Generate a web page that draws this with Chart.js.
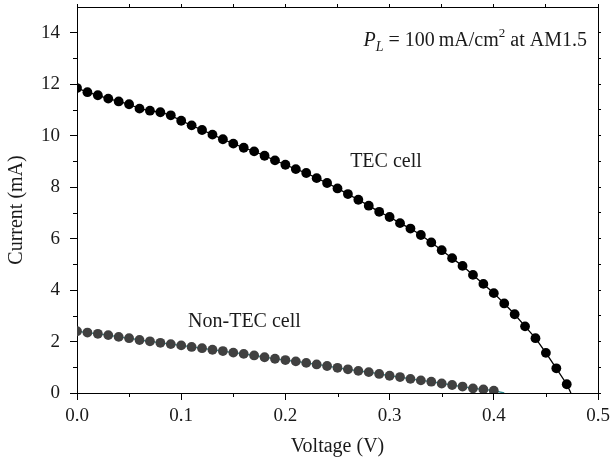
<!DOCTYPE html>
<html>
<head>
<meta charset="utf-8">
<script src="https://cdn.jsdelivr.net/npm/chart.js@4/dist/chart.umd.min.js"></script>
<style>
  html, body { margin: 0; padding: 0; background: #fff; }
  #wrap { width: 610px; height: 460px; }
</style>
</head>
<body>
<div id="wrap"><canvas id="c" width="610" height="460"></canvas></div>
<script>
// ---- data ----
const tecVoltage = [0.00,0.01,0.02,0.03,0.04,0.05,0.06,0.07,0.08,0.09,
  0.10,0.11,0.12,0.13,0.14,0.15,0.16,0.17,0.18,0.19,
  0.20,0.21,0.22,0.23,0.24,0.25,0.26,0.27,0.28,0.29,
  0.30,0.31,0.32,0.33,0.34,0.35,0.36,0.37,0.38,0.39,
  0.40,0.41,0.42,0.43,0.44,0.45,0.46,0.47];
const tecCurrent = [11.85,11.69,11.57,11.44,11.33,11.22,11.05,10.97,10.91,10.79,
  10.58,10.40,10.22,10.04,9.86,9.69,9.53,9.39,9.22,9.04,
  8.87,8.70,8.55,8.35,8.16,7.95,7.73,7.51,7.28,7.04,
  6.84,6.60,6.39,6.14,5.85,5.55,5.24,4.94,4.59,4.24,
  3.88,3.48,3.06,2.59,2.13,1.56,0.96,0.34];
const tecFitEnd = [0.474, 0.0];

const nonTecVoltage = [0.00,0.01,0.02,0.03,0.04,0.05,0.06,0.07,0.08,0.09,
  0.10,0.11,0.12,0.13,0.14,0.15,0.16,0.17,0.18,0.19,
  0.20,0.21,0.22,0.23,0.24,0.25,0.26,0.27,0.28,0.29,
  0.30,0.31,0.32,0.33,0.34,0.35,0.36,0.37,0.38,0.39,0.40];
const nonTecCurrent = [2.40,2.35,2.30,2.25,2.18,2.13,2.06,2.01,1.95,1.90,
  1.85,1.79,1.74,1.68,1.63,1.57,1.52,1.46,1.39,1.33,
  1.28,1.23,1.17,1.11,1.05,0.98,0.92,0.86,0.81,0.74,
  0.67,0.62,0.55,0.49,0.44,0.37,0.31,0.25,0.18,0.14,0.09];
const nonTecFitEnd = [0.41, 0.0];

const xMajorTicks = [0.0, 0.1, 0.2, 0.3, 0.4, 0.5];
const xMinorTicks = [0.05, 0.15, 0.25, 0.35, 0.45];
const yMajorTicks = [0, 2, 4, 6, 8, 10, 12, 14];
const yMinorTicks = [1, 3, 5, 7, 9, 11, 13];

const seriesLabels = ['TEC cell', 'Non-TEC cell'];
const xTitle = 'Voltage (V)';
const yTitle = 'Current (mA)';

// ---- build ----
const toPts = (xs, ys) => xs.map((x, i) => ({ x: x, y: ys[i] }));
const tecPts = toPts(tecVoltage, tecCurrent);
const nonPts = toPts(nonTecVoltage, nonTecCurrent);
const tecLine = tecPts.concat([{ x: tecFitEnd[0], y: tecFitEnd[1] }]);
const nonLine = nonPts.concat([{ x: nonTecFitEnd[0], y: nonTecFitEnd[1] }]);

const SERIF = "'Liberation Serif', 'Times New Roman', serif";

const minorTickPlugin = {
  id: 'minorTicks',
  afterDraw(chart) {
    const ctx = chart.ctx;
    const xs = chart.scales.x, ys = chart.scales.y;
    const ca = chart.chartArea;
    ctx.save();
    ctx.strokeStyle = '#000';
    ctx.lineWidth = 1;
    ctx.beginPath();
    xMinorTicks.forEach(v => {
      const px = Math.round(xs.getPixelForValue(v)) + 0.5;
      ctx.moveTo(px, ca.bottom); ctx.lineTo(px, ca.bottom + 4);
    });
    yMinorTicks.forEach(v => {
      const py = Math.round(ys.getPixelForValue(v)) + 0.5;
      ctx.moveTo(ca.left, py); ctx.lineTo(ca.left - 4, py);
    });
    ctx.stroke();
    ctx.restore();
  }
};

const annotationPlugin = {
  id: 'annots',
  afterDatasetsDraw(chart) {
    const ctx = chart.ctx;
    const xs = chart.scales.x, ys = chart.scales.y;
    ctx.save();
    ctx.fillStyle = '#1a1a1a';
    ctx.textBaseline = 'alphabetic';
    // series labels
    ctx.font = '20px ' + SERIF;
    ctx.textAlign = 'center';
    ctx.fillText(seriesLabels[0], xs.getPixelForValue(0.2965), ys.getPixelForValue(8.8));
    ctx.fillText(seriesLabels[1], xs.getPixelForValue(0.1607), ys.getPixelForValue(2.58));
    // P_L annotation, right-aligned
    const parts = [
      { t: 'P', f: 'italic 20px ' + SERIF, dy: 0 },
      { t: 'L', f: 'italic 14px ' + SERIF, dy: 5 },
      { t: ' = 100\u2009mA/cm', f: '20px ' + SERIF, dy: 0 },
      { t: '2', f: '13px ' + SERIF, dy: -9 },
      { t: ' at AM1.5', f: '20px ' + SERIF, dy: 0 }
    ];
    let total = 0;
    parts.forEach(p => { ctx.font = p.f; p.w = ctx.measureText(p.t).width; total += p.w; });
    ctx.textAlign = 'left';
    let x = xs.getPixelForValue(0.4894) - total;
    const base = ys.getPixelForValue(13.5);
    parts.forEach(p => { ctx.font = p.f; ctx.fillText(p.t, x, base + p.dy); x += p.w; });
    ctx.restore();
  }
};

const axisCommon = {
  border: { display: true, color: '#000', width: 1 },
};
const noPad = s => { s.paddingLeft = 0; s.paddingRight = 0; s.paddingTop = 0; s.paddingBottom = 0; };

new Chart(document.getElementById('c'), {
  type: 'scatter',
  data: {
    datasets: [
      { label: seriesLabels[0], data: tecPts, showLine: false, pointRadius: 4.9, pointHoverRadius: 4.9,
        pointBackgroundColor: '#000', pointBorderColor: '#000', pointBorderWidth: 0, order: 0 },
      { label: seriesLabels[1], data: nonPts, showLine: false, pointRadius: 4.9, pointHoverRadius: 4.9,
        pointBackgroundColor: '#404040', pointBorderColor: '#404040', pointBorderWidth: 0, order: 0 },
      { label: 'TEC fit', data: tecLine, showLine: true, pointRadius: 0, borderColor: '#000',
        borderWidth: 1.3, tension: 0, fill: false, order: 1 },
      { label: 'Non-TEC fit', data: nonLine, showLine: true, pointRadius: 0, borderColor: '#2f8589',
        borderWidth: 1.3, tension: 0, fill: false, order: 1 }
    ]
  },
  options: {
    responsive: false,
    animation: false,
    devicePixelRatio: 1,
    layout: { padding: 0 },
    plugins: { legend: { display: false }, tooltip: { enabled: false } },
    scales: {
      x: {
        ...axisCommon,
        type: 'linear', position: 'bottom', min: 0, max: 0.5,
        afterBuildTicks: s => { s.ticks = xMajorTicks.map(v => ({ value: v })); },
        afterFit: s => { s.height = 67; noPad(s); },
        grid: { display: true, drawOnChartArea: false, drawTicks: true, tickLength: 7, tickColor: '#000', tickWidth: 1 },
        ticks: { color: '#1a1a1a', font: { family: SERIF, size: 19 }, padding: 5, maxRotation: 0,
          callback: v => Number(v).toFixed(1) },
        title: { display: true, text: xTitle, color: '#1a1a1a', font: { family: SERIF, size: 20 }, padding: { top: 0, bottom: 1 } }
      },
      y: {
        ...axisCommon,
        type: 'linear', position: 'left', min: 0, max: 15,
        afterBuildTicks: s => { s.ticks = yMajorTicks.map(v => ({ value: v })); },
        afterFit: s => { s.width = 77; noPad(s); },
        grid: { display: true, drawOnChartArea: false, drawTicks: true, tickLength: 7, tickColor: '#000', tickWidth: 1 },
        ticks: { color: '#1a1a1a', font: { family: SERIF, size: 19 }, padding: 10,
          callback: v => String(v) },
        title: { display: true, text: yTitle + '    ', color: '#1a1a1a', font: { family: SERIF, size: 20 }, padding: { top: 5, bottom: 0 } }
      },
      x2: {
        ...axisCommon,
        type: 'linear', position: 'top', min: 0, max: 0.5,
        afterBuildTicks: s => { s.ticks = xMajorTicks.concat(xMinorTicks).map(v => ({ value: v })); },
        afterFit: s => { s.height = 7; noPad(s); },
        grid: { display: true, drawOnChartArea: false, drawTicks: true, tickLength: 3, tickColor: '#000' },
        ticks: { display: false }
      },
      y2: {
        ...axisCommon,
        type: 'linear', position: 'right', min: 0, max: 15,
        afterBuildTicks: s => { s.ticks = yMajorTicks.concat(yMinorTicks).map(v => ({ value: v })); },
        afterFit: s => { s.width = 12; noPad(s); },
        grid: { display: true, drawOnChartArea: false, drawTicks: true, tickLength: 3, tickColor: '#000' },
        ticks: { display: false }
      }
    }
  },
  plugins: [minorTickPlugin, annotationPlugin]
});
</script>
</body>
</html>
